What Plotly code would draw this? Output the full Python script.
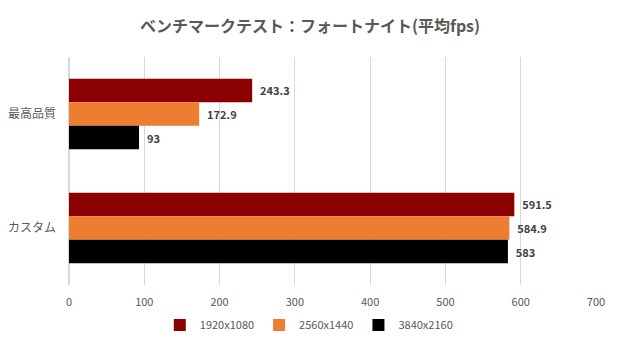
import plotly.graph_objects as go

categories = ["最高品質", "カスタム"]
series_names = ["1920x1080", "2560x1440", "3840x2160"]
values_1080 = [243.3, 591.5]
values_1440 = [172.9, 584.9]
values_2160 = [93, 583]
colors = ["#8B0000", "#ED7D31", "#000000"]
labels_1080 = ["243.3", "591.5"]
labels_1440 = ["172.9", "584.9"]
labels_2160 = ["93", "583"]

font_family = "Noto Sans CJK JP, Noto Sans, sans-serif"

fig = go.Figure()
for name, vals, labs, col in zip(series_names, [values_1080, values_1440, values_2160],
                                 [labels_1080, labels_1440, labels_2160], colors):
    fig.add_trace(go.Bar(
        y=categories, x=vals, name=name, orientation="h",
        marker=dict(color=col, line=dict(width=0)),
        text=labs, textposition="outside", cliponaxis=False,
        textfont=dict(family=font_family, size=11, color="#404040"),
        texttemplate="\u00a0\u00a0<b>%{text}</b>",
    ))

fig.update_layout(
    width=620, height=354,
    margin=dict(l=69, r=24, t=57, b=69),
    paper_bgcolor="white", plot_bgcolor="white",
    barmode="group", bargap=0.38, bargroupgap=0,
    title=dict(text="<b>ベンチマークテスト：フォートナイト(平均fps)</b>",
               x=0.5, xanchor="center", y=0.925, yanchor="middle",
               font=dict(family=font_family, size=16, color="#595959")),
    font=dict(family=font_family, color="#595959"),
    xaxis=dict(range=[0, 700], dtick=100, showgrid=True, gridcolor="#D9D9D9",
               gridwidth=1, zeroline=True, zerolinecolor="#D9D9D9", showline=False,
               tickfont=dict(size=11, color="#595959"), ticks="", fixedrange=True,
               ticklabelstandoff=9, automargin=False),
    yaxis=dict(autorange="reversed", showgrid=False, showline=False, ticks="",
               tickfont=dict(size=12, color="#595959"), ticklabelstandoff=12,
               automargin=False),
    legend=dict(orientation="h", x=0.455, xanchor="center", y=-0.175, yanchor="middle",
                font=dict(size=11, color="#595959"), itemwidth=30,
                traceorder="normal"),
    showlegend=True,
)

fig.write_html("out.html")
